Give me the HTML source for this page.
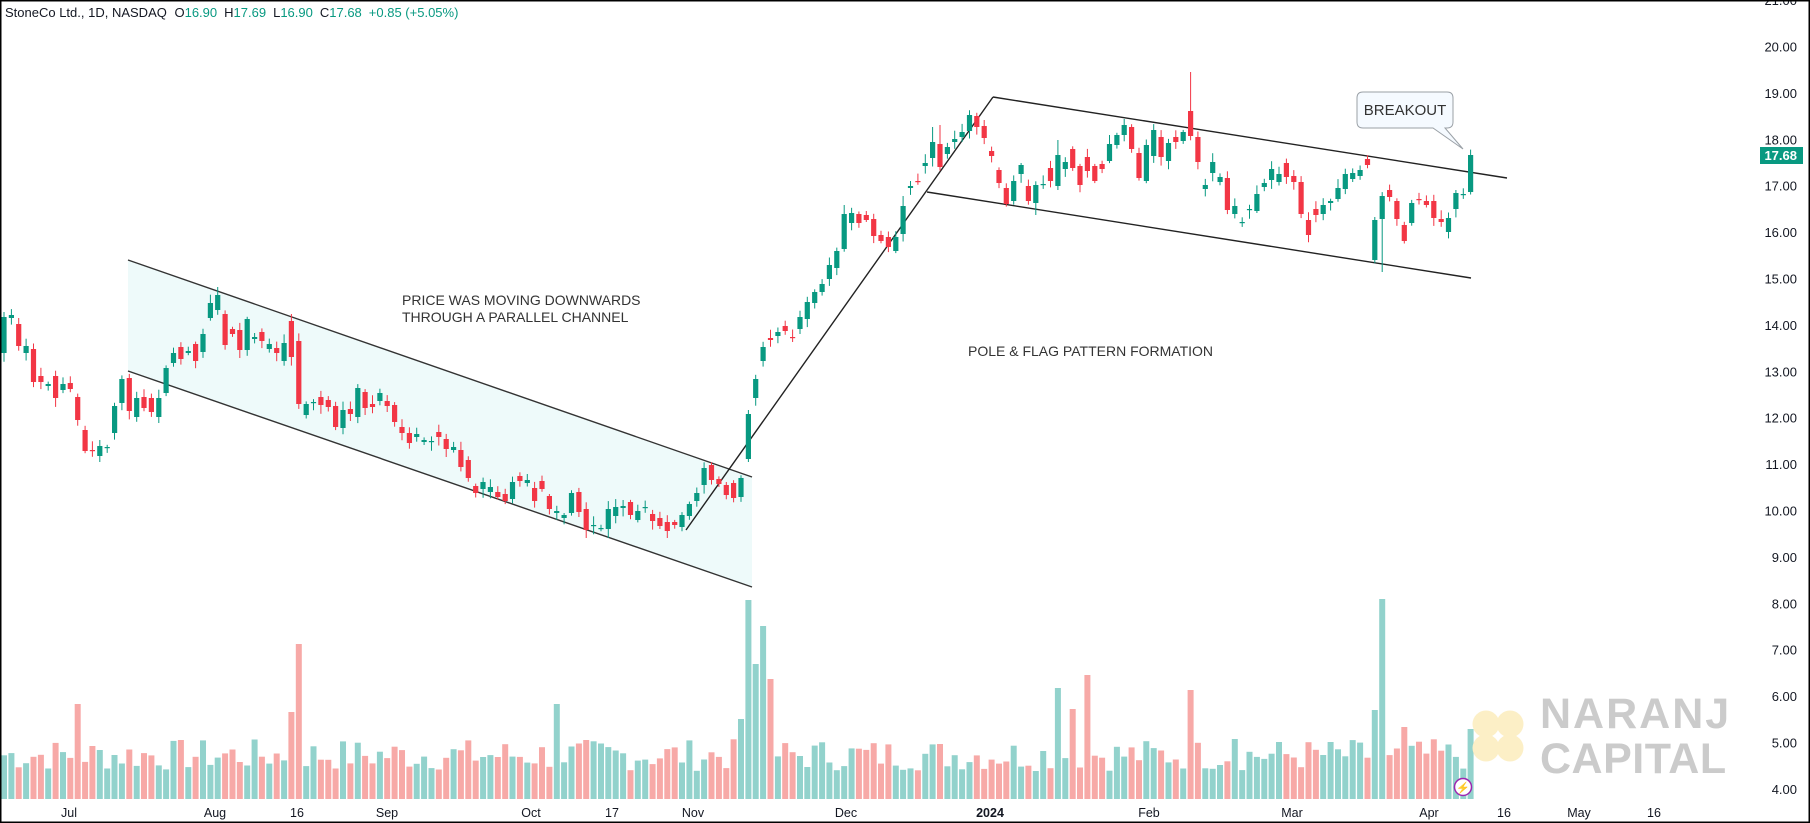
<!DOCTYPE html>
<html><head><meta charset="utf-8"><style>
html,body{margin:0;padding:0;background:#fff;}
svg{display:block;font-family:"Liberation Sans",sans-serif;}
</style></head><body>
<svg id="c" width="1810" height="823" viewBox="0 0 1810 823" xmlns="http://www.w3.org/2000/svg"></svg>
<script>
const D=[
['G',317,353],['G',315,318],['R',324,346],['G',346,353],['R',349,382],['R',376,382],['G',384,386],['R',376,398],['G',384,390],['R',383,389],
['R',397,420],['R',430,451],['R',450,451],['G',446,456],['G',447,448],['G',406,433],['G',379,403],['R',378,411],['G',398,417],['R',397,408],
['R',398,412],['G',398,417],['G',368,393],['G',353,363],['R',347,359],['G',351,353],['R',344,361],['G',334,352],['G',303,318],['G',295,310],
['R',314,345],['R',329,334],['R',330,350],['G',319,350],['G',337,339],['R',332,341],['G',344,349],['R',348,353],['G',343,361],['R',321,357],
['R',341,404],['G',404,415],['G',402,403],['R',397,405],['R',400,407],['R',406,427],['G',410,428],['R',409,414],['G',388,417],['R',392,408],
['R',404,407],['G',393,401],['R',401,406],['R',405,422],['R',427,433],['R',433,443],['G',434,437],['G',440,442],['G',441,442],['R',432,437],
['R',439,449],['G',447,450],['R',450,467],['R',460,478],['R',486,493],['G',482,489],['G',487,492],['R',492,497],['R',494,501],['G',482,499],
['R',476,481],['G',480,483],['R',488,501],['R',481,489],['R',496,509],['G',511,513],['G',515,518],['G',493,513],['R',492,512],['R',509,530],
['G',525,526],['G',528,529],['G',509,529],['G',507,516],['G',506,508],['R',502,515],['G',511,520],['G',507,508],['R',514,521],['R',518,526],
['R',522,531],['R',522,525],['G',515,527],['G',504,516],['G',493,501],['G',468,485],['R',465,480],['R',479,484],['R',485,495],['R',483,498],
['G',478,497],['G',414,459],['G',379,398],['G',347,361],['R',338,340],['G',332,336],['R',326,331],['R',337,338],['G',317,329],['G',302,319],
['G',292,303],['G',284,292],['G',265,279],['G',251,268],['G',214,249],['G',213,223],['R',214,223],['R',215,220],['R',219,236],['R',235,241],
['R',237,247],['G',237,251],['G',206,234],['G',186,188],['R',181,182],['G',163,166],['G',142,158],['R',144,167],['G',147,154],['G',139,142],
['G',132,137],['G',115,131],['R',116,127],['R',126,138],['R',151,156],['R',170,183],['R',188,204],['G',181,201],['G',165,174],['R',186,201],
['G',185,203],['G',184,185],['R',168,181],['G',155,186],['G',162,169],['R',149,168],['R',166,185],['R',157,171],['R',166,181],['R',164,169],
['G',144,161],['G',135,145],['G',125,135],['R',127,149],['R',153,178],['G',145,181],['G',130,156],['R',137,157],['G',143,161],['R',137,142],
['G',132,141],['R',111,136],['R',137,162],['G',185,189],['G',162,173],['G',177,182],['R',178,210],['G',206,214],['G',222,223],['G',209,210],
['G',194,211],['G',183,187],['G',169,180],['G',174,182],['R',163,177],['R',176,182],['R',182,214],['R',220,235],['R',209,215],['G',205,214],
['G',201,203],['G',188,199],['G',174,189],['G',173,179],['G',170,176],['R',159,165],['G',220,260],['G',196,219],['R',190,197],['R',201,219],
['R',225,241],['G',203,223],['R',199,200],['R',201,205],['R',201,218],['R',219,222],['G',218,232],['G',193,209],['G',194,195],['G',155,192]
];
let seed=7;function rnd(){seed=(seed*9301+49297)%233280;return seed/233280;}
const hiO={29:287,161:72,143:140,114:205,122:196,126:127,127:125,101:410,2:318,39:314,0:312,13:440};
const loO={187:272,143:190,140:215,101:462,13:462,79:538,75:520};
const volO={10:95,39:87,40:155,75:95,101:199,102:135,103:173,104:120,100:80,143:111,147:124,161:109,186:89,187:200,200:65,145:90,190:72,199:70,167:60};
let s='';
const G='#089981',R='#f23645',VG='#92d2cc',VR='#f7a9a7';
s+='<polygon points="128,260 752,477 752,587 128,371" fill="#eefafa"/>';
const x0=4,st=7.37;
for(let i=0;i<D.length;i++){
 const x=x0+i*st;const d=D[i];
 let h=volO[i]!==undefined?volO[i]:(28+rnd()*32);
 s+=`<rect x="${(x-3).toFixed(1)}" y="${(799-h).toFixed(1)}" width="6" height="${h.toFixed(1)}" fill="${d[0]=='G'?VG:VR}"/>`;
}
s+='<line x1="128" y1="260" x2="752" y2="477" stroke="#333" stroke-width="1.4"/>';
s+='<line x1="128" y1="371" x2="752" y2="587" stroke="#333" stroke-width="1.4"/>';
s+='<line x1="686" y1="530" x2="993" y2="97" stroke="#222" stroke-width="1.4"/>';
s+='<line x1="993" y1="97" x2="1507" y2="178" stroke="#222" stroke-width="1.4"/>';
s+='<line x1="927" y1="192" x2="1471" y2="278" stroke="#222" stroke-width="1.4"/>';
for(let i=0;i<D.length;i++){
 const x=x0+i*st;const d=D[i];const c=d[0]=='G'?G:R;
 let t=d[1],b=Math.max(d[2],d[1]+1.2);
 let hi=hiO[i]!==undefined?hiO[i]:t-(2+rnd()*7);
 let lo=loO[i]!==undefined?loO[i]:b+(2+rnd()*7);
 s+=`<line x1="${x.toFixed(1)}" y1="${hi.toFixed(1)}" x2="${x.toFixed(1)}" y2="${lo.toFixed(1)}" stroke="${c}" stroke-width="1"/>`;
 s+=`<rect x="${(x-2.6).toFixed(1)}" y="${t}" width="5.2" height="${(b-t).toFixed(1)}" fill="${c}"/>`;
}
s+='<text x="402" y="305" font-size="14" fill="#333">PRICE WAS MOVING DOWNWARDS</text>';
s+='<text x="402" y="322" font-size="14" fill="#333">THROUGH A PARALLEL CHANNEL</text>';
s+='<text x="968" y="356" font-size="14" fill="#333">POLE &amp; FLAG PATTERN FORMATION</text>';
s+='<path d="M1363,92 H1447 Q1453,92 1453,98 V122 Q1453,128 1447,128 H1445 L1463,149 L1433,128 H1363 Q1357,128 1357,122 V98 Q1357,92 1363,92 Z" fill="#f5faff" stroke="#9aa0a6" stroke-width="1"/>';
s+='<text x="1405" y="115" font-size="15" fill="#333" text-anchor="middle">BREAKOUT</text>';
s+='<g fill="#fcefc6"><circle cx="1486" cy="724" r="13.5"/><circle cx="1510" cy="724" r="13.5"/><circle cx="1486" cy="748" r="13.5"/><circle cx="1510" cy="748" r="13.5"/></g>';
s+='<text x="1540" y="728" font-size="43" font-weight="bold" fill="#cbcbcb" letter-spacing="2">NARANJ</text>';
s+='<text x="1540" y="773" font-size="43" font-weight="bold" fill="#cbcbcb" letter-spacing="0.5">CAPITAL</text>';
s+='<circle cx="1463" cy="787" r="8.5" fill="#fff" stroke="#9c27b0" stroke-width="1.5"/><text x="1463" y="791.5" font-size="11" fill="#9c27b0" text-anchor="middle">⚡</text>';
for(let p=21;p>=4;p--){const y=47+(20-p)*46.4;
 s+=`<text x="1797" y="${(y+4.5).toFixed(1)}" font-size="13" fill="#131722" text-anchor="end">${p.toFixed(2)}</text>`;}
s+='<rect x="1760" y="147" width="43" height="17" fill="#089981"/><text x="1797" y="160" font-size="13" font-weight="bold" fill="#fff" text-anchor="end">17.68</text>';
[['Jul',69],['Aug',215],['16',297],['Sep',387],['Oct',531],['17',612],['Nov',693],['Dec',846],['2024',990],['Feb',1149],['Mar',1292],['Apr',1429],['16',1504],['May',1579],['16',1654]].forEach(a=>{
 s+=`<text x="${a[1]}" y="817" font-size="12.5" fill="#131722" text-anchor="middle"${a[0]=='2024'?' font-weight="bold"':''}>${a[0]}</text>`;});
s+='<text x="5" y="17" font-size="13" fill="#131722">StoneCo Ltd., 1D, NASDAQ <tspan dx="4">O</tspan><tspan fill="#089981">16.90</tspan><tspan dx="7">H</tspan><tspan fill="#089981">17.69</tspan><tspan dx="7">L</tspan><tspan fill="#089981">16.90</tspan><tspan dx="7">C</tspan><tspan fill="#089981">17.68</tspan><tspan dx="7" fill="#089981">+0.85 (+5.05%)</tspan></text>';
s+='<rect x="0.75" y="0.75" width="1808.5" height="821.5" fill="none" stroke="#000" stroke-width="1.5"/>';
document.getElementById('c').innerHTML=s;
</script>
</body></html>
